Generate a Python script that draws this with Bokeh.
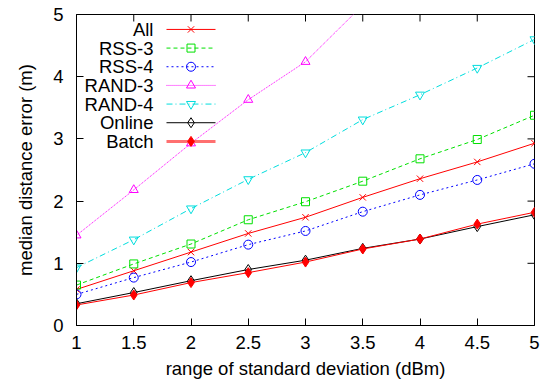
from bokeh.plotting import figure
from bokeh.models import Range1d, FixedTicker, Label
from bokeh.embed import file_html
from bokeh.resources import INLINE

x = [1, 1.5, 2, 2.5, 3, 3.5, 4, 4.5, 5]
all_v = [0.58, 0.88, 1.18, 1.48, 1.74, 2.06, 2.36, 2.63, 2.93]
rss3 = [0.65, 0.99, 1.31, 1.70, 1.99, 2.32, 2.68, 2.99, 3.38]
rss4 = [0.50, 0.77, 1.02, 1.30, 1.52, 1.83, 2.10, 2.34, 2.60]
rand3 = [1.45, 2.18, 2.93, 3.63, 4.24, 5.15, 5.90, 6.60, 7.30]
rand4 = [0.93, 1.38, 1.88, 2.35, 2.78, 3.31, 3.71, 4.14, 4.60]
online = [0.35, 0.53, 0.72, 0.90, 1.05, 1.24, 1.39, 1.59, 1.78]
batch = [0.33, 0.49, 0.69, 0.85, 1.02, 1.23, 1.39, 1.63, 1.82]

x_ticks = [1, 1.5, 2, 2.5, 3, 3.5, 4, 4.5, 5]
y_ticks = [0, 1, 2, 3, 4, 5]

FONT = "Liberation Sans"
FS = "18.5px"

XMIN, XMAX, YMIN, YMAX = 1, 5, 0, 5
W, H = 542, 383
BL, BR, BT, BB = 76, 8, 14, 58

p = figure(width=W, height=H, output_backend="svg", toolbar_location=None,
           x_range=Range1d(XMIN, XMAX), y_range=Range1d(YMIN, YMAX),
           min_border_left=BL, min_border_right=BR, min_border_top=BT, min_border_bottom=BB)
p.grid.visible = False
p.outline_line_color = "black"
p.outline_line_width = 1
p.background_fill_color = "white"
p.border_fill_color = "white"

for ax in (p.xaxis[0], p.yaxis[0]):
    ax.major_tick_in = 7
    ax.major_tick_out = 0
    ax.minor_tick_in = 0
    ax.minor_tick_out = 0
    ax.major_label_text_font = FONT
    ax.major_label_text_font_size = FS
    ax.major_label_text_color = "black"
    ax.axis_label_text_font = FONT
    ax.axis_label_text_font_size = FS
    ax.axis_label_text_font_style = "normal"
    ax.axis_label_text_color = "black"
    ax.axis_line_color = "black"
    ax.major_tick_line_color = "black"

p.xaxis.ticker = FixedTicker(ticks=x_ticks)
p.yaxis.ticker = FixedTicker(ticks=y_ticks)
p.xaxis.axis_label = "range of standard deviation (dBm)"
p.yaxis.axis_label = "median distance error (m)"
p.xaxis.major_label_standoff = 10
p.yaxis.major_label_standoff = 13
p.xaxis.axis_label_standoff = 6
p.yaxis.axis_label_standoff = 14

# mirrored ticks on top and right (gnuplot style), 7 px long
fw = W - BL - BR
fh = H - BT - BB
tx = 7 * (XMAX - XMIN) / fw
ty = 7 * (YMAX - YMIN) / fh
p.segment(x0=x_ticks, y0=[YMAX] * len(x_ticks), x1=x_ticks, y1=[YMAX - ty] * len(x_ticks),
          line_color="black", line_width=1)
p.segment(x0=[XMAX] * len(y_ticks), y0=y_ticks, x1=[XMAX - tx] * len(y_ticks), y1=y_ticks,
          line_color="black", line_width=1)

series = [
    ("All", all_v, "#ff0000", "solid", "x", "#ff0000", None),
    ("RSS-3", rss3, "#00e000", "4 3", "square", "#00e000", None),
    ("RSS-4", rss4, "#0000ff", "2 3", "circle", "#0000ff", None),
    ("RAND-3", rand3, "#ff00ff", "1 1", "triangle", "#ff00ff", None),
    ("RAND-4", rand4, "#00dddd", "6 3 1 3", "inverted_triangle", "#00dddd", None),
    ("Online", online, "#000000", "solid", "diamond", "#000000", None),
    ("Batch", batch, "#ff0000", "solid", "diamond", "#ff0000", "#ff0000"),
]

sizes = {"x": 9, "square": 8, "circle": 9, "triangle": 9,
         "inverted_triangle": 9, "diamond": 10}

leg_top = 4.76
leg_step = 0.30
leg_x0, leg_x1, leg_xm, leg_xt = 1.786, 2.214, 2.0, 1.672
for i, (name, ys, col, dash, mk, mcol, fill) in enumerate(series):
    p.line(x, ys, line_color=col, line_dash=dash, line_width=1)
    p.scatter(x, ys, marker=mk, size=sizes[mk], line_color=mcol,
              fill_color=fill if fill else None, line_width=1)
    ly = leg_top - i * leg_step
    if name == "Batch":
        p.line([leg_x0, leg_x1], [ly, ly], line_color="#ff7070", line_width=3)
    else:
        p.line([leg_x0, leg_x1], [ly, ly], line_color=col, line_dash=dash, line_width=1)
    p.scatter([leg_xm], [ly], marker=mk, size=sizes[mk], line_color=mcol,
              fill_color=fill if fill else None, line_width=1)
    p.add_layout(Label(x=leg_xt, y=ly, text=name, text_align="right",
                       text_baseline="middle", text_font=FONT,
                       text_font_size=FS, text_color="black"))

open("out.html", "w").write(file_html(p, INLINE))
